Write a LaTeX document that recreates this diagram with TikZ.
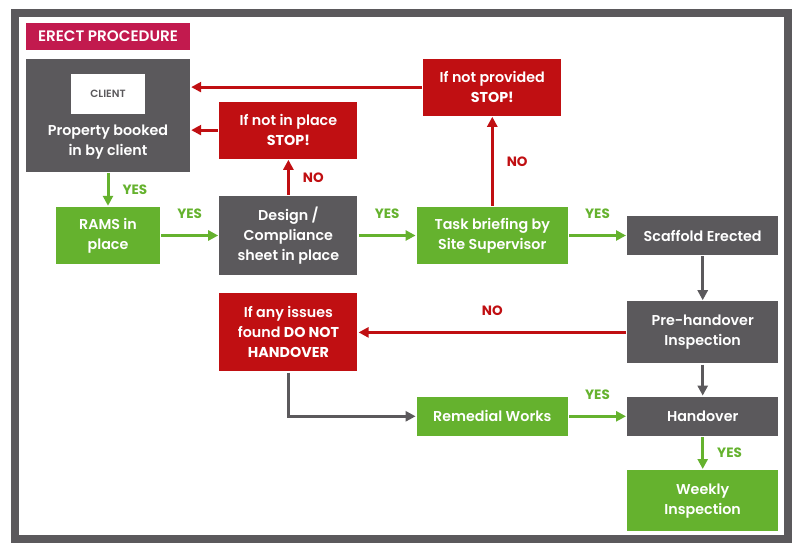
\documentclass[tikz,border=0pt]{standalone}
\usepackage{fontspec}
\setmainfont{Poppins}[UprightFont=* SemiBold, BoldFont=* Bold]
\usetikzlibrary{arrows.meta,positioning}
\definecolor{boxgray}{HTML}{5B595C}
\definecolor{stopred}{HTML}{C00F12}
\definecolor{okgreen}{HTML}{65B22E}
\definecolor{titlered}{HTML}{C21A4E}

\begin{document}
\begin{tikzpicture}[
  x=1pt, y=-1pt,
  node distance=59pt,
  box/.style={rectangle, inner sep=0pt, text=white, align=center,
              font=\fontsize{14.3}{20}\selectfont},
  gbox/.style={box, fill=boxgray},
  rbox/.style={box, fill=stopred},
  okbox/.style={box, fill=okgreen},
  arr/.style={-{Triangle[length=10pt,width=10pt]}, line width=3pt,
              shorten <=1pt, shorten >=1pt},
  yes/.style={arr, okgreen},
  no/.style={arr, stopred},
  nxt/.style={arr, boxgray},
  lbl/.style={font=\fontsize{13.5}{15}\bfseries\selectfont, inner sep=0pt, midway}
]
\useasboundingbox (0,0) rectangle (802,554);
\draw[boxgray, line width=7.5pt] (15,13) rectangle (788,539);

\node[box, fill=titlered, minimum width=164pt, minimum height=27pt,
      font=\fontsize{15.2}{16}\selectfont] (title) at (108,36.5) {ERECT PROCEDURE};

% top row
\node[okbox, minimum width=104pt, minimum height=57pt] (rams) at (108,235.5) {RAMS in\\place};
\node[gbox, minimum width=164pt, minimum height=113pt, above=35pt of rams] (client) {};
\node[box, fill=white, text=boxgray, minimum width=74pt, minimum height=40pt,
      font=\fontsize{10.5}{12}\selectfont, below=15pt of client.north] (clienttag) {CLIENT};
\node[box] (clientname) at ([yshift=30pt]client.south) {Property booked\\in by client};
\node[gbox, minimum width=138pt, minimum height=79pt, right=of rams] (design) {Design /\\Compliance\\sheet in place};
\node[rbox, minimum width=138pt, minimum height=57pt, above=37pt of design] (stop1) {If not in place\\\textbf{STOP!}};
\node[okbox, minimum width=151pt, minimum height=57pt, right=of design] (task) {Task briefing by\\Site Supervisor};
\node[rbox, minimum width=138pt, minimum height=57pt, above=91pt of task] (notprov) {If not provided\\\textbf{STOP!}};
\node[gbox, minimum width=151pt, minimum height=39pt, right=of task] (scaffold) {Scaffold Erected};

% right column and bottom
\node[gbox, minimum width=151pt, minimum height=62pt, below=46pt of scaffold] (pre) {Pre-handover\\Inspection};
\node[gbox, minimum width=151pt, minimum height=39pt, below=33pt of pre] (handover) {Handover};
\node[okbox, minimum width=151pt, minimum height=61pt, below=34pt of handover] (weekly) {Weekly\\Inspection};
\node[okbox, minimum width=151pt, minimum height=39pt, left=of handover] (remedial) {Remedial Works};
\node[rbox, minimum width=138pt, minimum height=78pt] (issues) at (design |- pre) {If any issues\\found \textbf{DO NOT}\\\textbf{HANDOVER}};

\draw[yes] (client) -- node[lbl, right=13pt]{YES} (rams);
\draw[yes] (rams) -- node[lbl, above=15pt]{YES} (design);
\draw[no] (design) -- node[lbl, right=13pt]{NO} (stop1);
\draw[no] (stop1.west) -- (stop1.west -| client.east);
\draw[no] (notprov.west) -- (notprov.west -| client.east);
\draw[yes] (design) -- node[lbl, above=15pt]{YES} (task);
\draw[no] (task) -- node[lbl, right=13pt]{NO} (notprov);
\draw[yes] (task) -- node[lbl, above=15pt]{YES} (scaffold);
\draw[nxt] (scaffold) -- (pre);
\draw[no] (pre) -- node[lbl, above=15pt]{NO} (issues);
\draw[nxt] (pre) -- (handover);
\draw[nxt] (issues.south) |- (remedial.west);
\draw[yes] (remedial) -- node[lbl, above=15pt]{YES} (handover);
\draw[yes] (handover) -- node[lbl, right=13pt]{YES} (weekly);
\end{tikzpicture}
\end{document}
